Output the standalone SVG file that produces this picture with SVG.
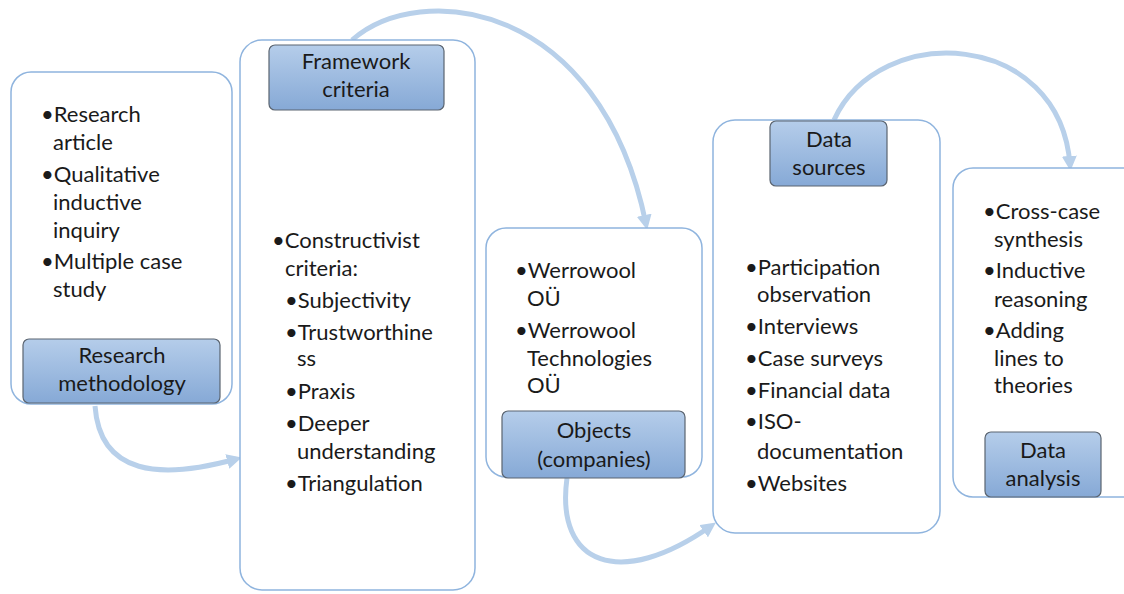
<svg xmlns="http://www.w3.org/2000/svg" width="1124" height="594" viewBox="0 0 1124 594">
<defs>
<linearGradient id="lab" x1="0" y1="0" x2="0" y2="1">
<stop offset="0" stop-color="#b5cdea"/>
<stop offset="1" stop-color="#86a9d6"/>
</linearGradient>
<marker id="arr" viewBox="0 0 10 10" refX="6" refY="5" markerWidth="3" markerHeight="3" orient="auto" markerUnits="strokeWidth">
<path d="M0,0 L10,5 L0,10 z" fill="#b8d0ea"/>
</marker>
<style>
.box{fill:#fff;stroke:#8fb4de;stroke-width:1.5}
.lab{fill:url(#lab);stroke:#5a6470;stroke-width:1.2}
.t{font-family:Lato,"Liberation Sans",sans-serif;font-size:22px;fill:#1a1a1a}
.c{text-anchor:middle}
.con{fill:none;stroke:#b8d0ea;stroke-width:5;marker-end:url(#arr)}
</style>
</defs>
<g id="connectors">
<path class="con" d="M95,406 C100,475 160,480 236,459"/>
<path class="con" d="M352,40 C420,-20 600,0 646,224"/>
<path class="con" d="M567,478 C555,565 620,590 711,526"/>
<path class="con" d="M834,120 C880,20 1060,30 1070,165"/>
</g>
<g id="n1">
<rect class="box" x="11" y="72" width="221" height="332" rx="20"/>
<text class="t" x="41" y="122">•Research</text>
<text class="t" x="53" y="150">article</text>
<text class="t" x="41" y="182">•Qualitative</text>
<text class="t" x="53" y="210">inductive</text>
<text class="t" x="53" y="238">inquiry</text>
<text class="t" x="41" y="269">•Multiple case</text>
<text class="t" x="53" y="297">study</text>
<rect class="lab" x="23" y="339" width="197" height="64" rx="6"/>
<text class="t c" x="122" y="363">Research</text>
<text class="t c" x="122" y="391">methodology</text>
</g>
<g id="n2">
<rect class="box" x="240" y="40" width="235" height="550" rx="22"/>
<rect class="lab" x="269" y="45" width="175" height="65" rx="6"/>
<text class="t c" x="356" y="69">Framework</text>
<text class="t c" x="356" y="97">criteria</text>
<text class="t" x="272" y="248">•Constructivist</text>
<text class="t" x="285" y="276">criteria:</text>
<text class="t" x="285" y="308">•Subjectivity</text>
<text class="t" x="285" y="340">•Trustworthine</text>
<text class="t" x="297" y="366">ss</text>
<text class="t" x="285" y="399">•Praxis</text>
<text class="t" x="285" y="431">•Deeper</text>
<text class="t" x="297" y="459">understanding</text>
<text class="t" x="285" y="491">•Triangulation</text>
</g>
<g id="n3">
<rect class="box" x="486" y="228" width="216" height="249" rx="20"/>
<text class="t" x="515" y="278">•Werrowool</text>
<text class="t" x="527" y="306">OÜ</text>
<text class="t" x="515" y="338">•Werrowool</text>
<text class="t" x="527" y="366">Technologies</text>
<text class="t" x="527" y="393">OÜ</text>
<rect class="lab" x="502" y="411" width="183" height="67" rx="6"/>
<text class="t c" x="594" y="438">Objects</text>
<text class="t c" x="594" y="467">(companies)</text>
</g>
<g id="n4">
<rect class="box" x="713" y="120" width="227" height="413" rx="22"/>
<rect class="lab" x="770" y="121" width="117" height="65" rx="6"/>
<text class="t c" x="829" y="147">Data</text>
<text class="t c" x="829" y="175">sources</text>
<text class="t" x="745" y="275">•Participation</text>
<text class="t" x="757" y="302">observation</text>
<text class="t" x="745" y="334">•Interviews</text>
<text class="t" x="745" y="366">•Case surveys</text>
<text class="t" x="745" y="398">•Financial data</text>
<text class="t" x="745" y="429">•ISO-</text>
<text class="t" x="757" y="459">documentation</text>
<text class="t" x="745" y="491">•Websites</text>
</g>
<g id="n5">
<rect class="box" x="953" y="168" width="190" height="329" rx="20"/>
<text class="t" x="983" y="219">•Cross-case</text>
<text class="t" x="994" y="247">synthesis</text>
<text class="t" x="983" y="278">•Inductive</text>
<text class="t" x="994" y="307">reasoning</text>
<text class="t" x="983" y="338">•Adding</text>
<text class="t" x="994" y="366">lines to</text>
<text class="t" x="994" y="393">theories</text>
<rect class="lab" x="985" y="432" width="116" height="65" rx="6"/>
<text class="t c" x="1043" y="458">Data</text>
<text class="t c" x="1043" y="486">analysis</text>
</g>
</svg>
